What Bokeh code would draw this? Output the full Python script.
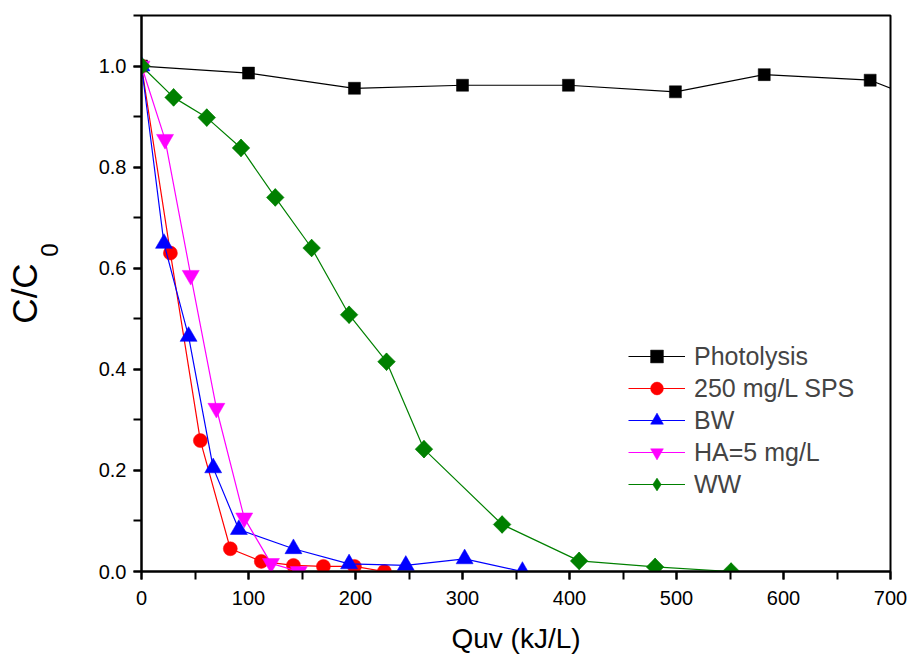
import numpy as np
from bokeh.plotting import figure
from bokeh.models import (SingleIntervalTicker, NumeralTickFormatter, FixedTicker, LinearAxis,
                          Legend, LegendItem)
from bokeh.embed import file_html
from bokeh.resources import INLINE

# Data
photo_x = [0, 100, 199, 300, 399, 499, 582, 681, 780]
photo_y = [1.0, 0.986, 0.956, 0.962, 0.962, 0.949, 0.983, 0.972, 0.89]

sps_x = [0, 27, 55, 83, 112, 142, 170, 199, 227]
sps_y = [1.0, 0.63, 0.259, 0.045, 0.020, 0.012, 0.010, 0.010, 0.0]

bw_x = [0, 21, 44, 67, 91, 142, 194, 247, 302, 356]
bw_y = [1.0, 0.649, 0.465, 0.205, 0.083, 0.045, 0.015, 0.012, 0.025, 0.0]

ha_x = [0, 22, 46, 70, 96, 121, 147]
ha_y = [1.0, 0.855, 0.586, 0.323, 0.106, 0.016, 0.0]

ww_x = [0, 30, 61, 93, 125, 159, 194, 229, 264, 337, 409, 480, 551]
ww_y = [1.0, 0.938, 0.898, 0.838, 0.740, 0.640, 0.508, 0.415, 0.242, 0.093, 0.021, 0.009, 0.0]

names = ["Photolysis", "250 mg/L SPS", "BW", "HA=5 mg/L", "WW"]
x_label = "Quv (kJ/L)"
y_label_main = "C/C"
y_label_sub = "0"

FONT = "Liberation Sans"

p = figure(width=907, height=656, x_range=(0, 700), y_range=(0, 1.1),
           output_backend="svg", toolbar_location=None,
           min_border_left=141, min_border_right=17, min_border_top=15, min_border_bottom=84)
p.grid.visible = False
p.outline_line_color = "black"
p.outline_line_width = 2
p.outline_line_alpha = 1

series = [
    (photo_x, photo_y, "black", dict(marker="square", size=12, angle=0.0), None),
    (sps_x, sps_y, "#ff0000", dict(marker="circle", size=14, angle=0.0), None),
    (bw_x, bw_y, "#0000ff", dict(marker="triangle", size=17, angle=0.0), None),
    (ha_x, ha_y, "#ff00ff", dict(marker="inverted_triangle", size=17, angle=0.0), None),
    (ww_x, ww_y, "#008000", dict(marker="square", size=12.5, angle=np.pi / 4),
     dict(marker="diamond", size=17.5)),
]

items = []
for (xs, ys, col, mk, legmk), name in zip(series, names):
    l = p.line(xs, ys, line_color=col, line_width=1.2)
    rs = [l]
    if legmk is not None:
        # diamond drawn underneath the (wider) rotated squares; used for the legend glyph
        d = p.scatter(xs, ys, fill_color=col, line_color=col, line_width=0.5, **legmk)
        rs.append(d)
    s = p.scatter(xs, ys, fill_color=col, line_color=col, line_width=0.5, **mk)
    if legmk is None:
        rs.append(s)
    items.append(LegendItem(label=name, renderers=rs))

legend = Legend(items=items, location=(477, 61))
legend.border_line_alpha = 0
legend.background_fill_alpha = 0
legend.label_text_font = FONT
legend.label_text_font_size = "25px"
legend.glyph_width = 57
legend.glyph_height = 32
legend.label_height = 32
legend.spacing = 0
legend.label_standoff = 9
legend.padding = 10
legend.margin = 0
p.add_layout(legend, "center")

for ax in (p.xaxis[0], p.yaxis[0]):
    ax.axis_line_width = 2
    ax.major_tick_line_width = 2
    ax.minor_tick_line_width = 2
    ax.major_tick_in = 0
    ax.minor_tick_in = 0
    ax.major_tick_out = 8
    ax.minor_tick_out = 8
    ax.major_label_text_font = FONT
    ax.major_label_text_font_size = "20px"
    ax.major_label_text_color = "black"

p.xaxis.ticker = SingleIntervalTicker(interval=100, num_minor_ticks=2)
p.yaxis.ticker = SingleIntervalTicker(interval=0.2, num_minor_ticks=2)
p.yaxis.formatter = NumeralTickFormatter(format="0.0")
p.xaxis.major_label_standoff = 11
p.yaxis.major_label_standoff = 7

p.xaxis.axis_label = x_label
p.xaxis.axis_label_text_font = FONT
p.xaxis.axis_label_text_font_size = "28px"
p.xaxis.axis_label_text_font_style = "normal"
p.xaxis.axis_label_text_color = "black"
p.xaxis.axis_label_standoff = 15


def label_axis(text, size, standoff):
    return LinearAxis(ticker=FixedTicker(ticks=[]), axis_line_color=None,
                      major_tick_out=0, minor_tick_out=0, major_tick_in=0, minor_tick_in=0,
                      major_label_standoff=0, axis_label=text, axis_label_standoff=standoff,
                      axis_label_text_font=FONT, axis_label_text_font_size=size,
                      axis_label_text_font_style="normal", axis_label_text_color="black")


# subscript "0" next to the tick labels (raised with leading no-break spaces), "C/C" further out
p.add_layout(label_axis("\u00a0" * 13 + y_label_sub, "24px", 33), "left")
p.add_layout(label_axis(y_label_main, "35px", -11), "left")

open("out.html", "w").write(file_html(p, INLINE))
